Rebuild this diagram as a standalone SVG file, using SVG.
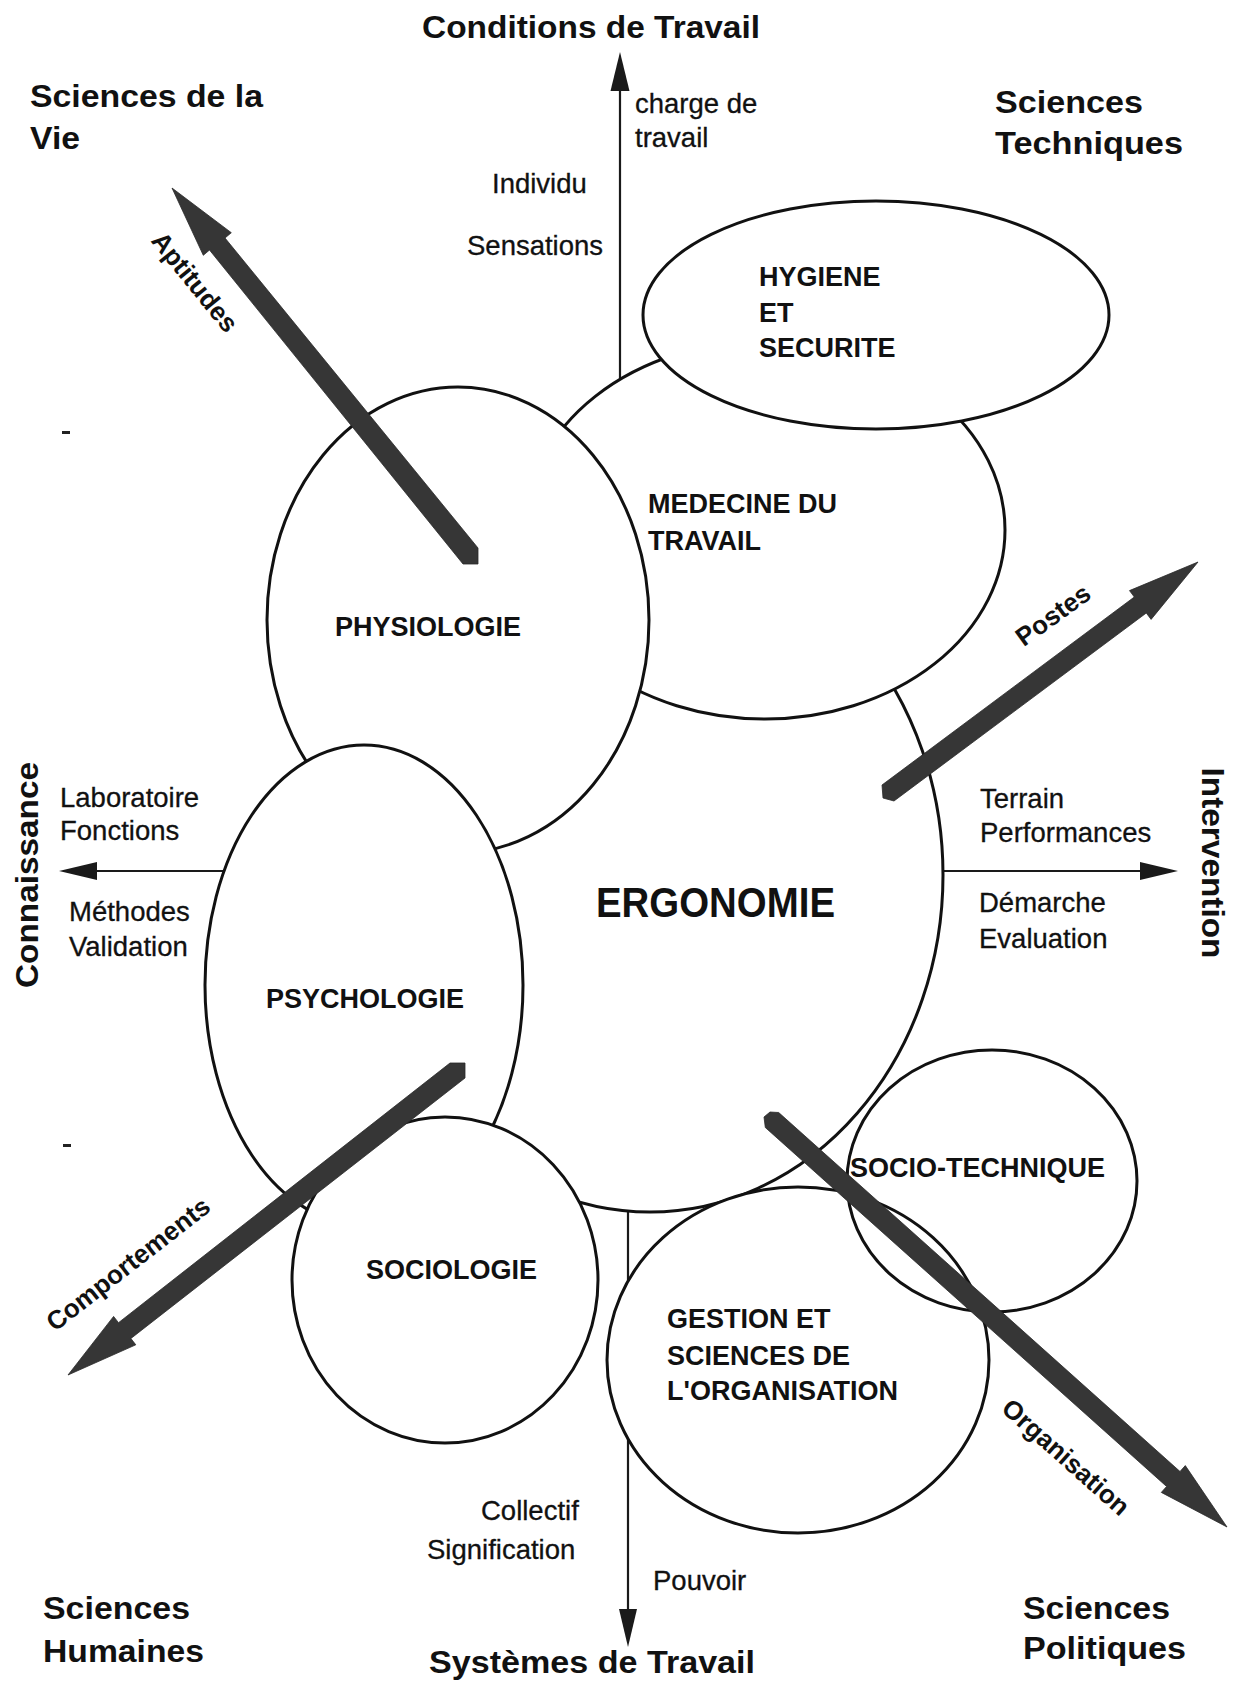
<svg xmlns="http://www.w3.org/2000/svg" width="1241" height="1684" viewBox="0 0 1241 1684">
  <style>
    .disc { fill: #fff; stroke: #111; stroke-width: 3; }
    .ring { fill: none; stroke: #111; stroke-width: 3; }
    .axis { stroke: #1a1a1a; stroke-width: 2.2; fill: none; }
    .tip { fill: #1a1a1a; }
    .thick { fill: #363636; stroke: #2a2a2a; stroke-width: 0.8; }
    text { font-family: "Liberation Sans", Arial, Helvetica, sans-serif; fill: #111; }
    .corner { font-size: 32px; font-weight: bold; }
    .node { font-size: 27px; font-weight: bold; }
    .small { font-size: 27.5px; stroke: #111; stroke-width: 0.3; }
    .diag { font-size: 26px; font-weight: bold; }
    .mark { fill: #222; }
  </style>

  <rect width="1241" height="1684" fill="#fff"/>

  <!-- thin axis lines -->
  <g id="connectors">
    <line class="axis" x1="620" y1="380" x2="620" y2="80"/>
    <polygon class="tip" points="620,52 629.5,91 610.5,91"/>
    <line class="axis" x1="628" y1="1211" x2="628" y2="1615"/>
    <polygon class="tip" points="628,1647 637,1609 619,1609"/>
    <line class="axis" x1="224" y1="871" x2="90" y2="871"/>
    <polygon class="tip" points="59,871 97,862 97,880"/>
    <line class="axis" x1="943" y1="871" x2="1148" y2="871"/>
    <polygon class="tip" points="1178,871 1140,862 1140,880"/>
  </g>

  <!-- fields -->
  <g id="ergonomie">
    <ellipse class="disc" cx="650" cy="875" rx="293" ry="337"/>
    <text x="596" y="917" font-size="42" font-weight="bold" textLength="239" lengthAdjust="spacingAndGlyphs">ERGONOMIE</text>
  </g>
  <g id="medecine">
    <ellipse class="disc" cx="765" cy="530" rx="240" ry="189"/>
    <text class="node" x="648" y="513">MEDECINE DU</text>
    <text class="node" x="648" y="550">TRAVAIL</text>
  </g>
  <g id="hygiene">
    <ellipse class="disc" cx="876" cy="315" rx="233" ry="114"/>
    <text class="node" x="759" y="286">HYGIENE</text>
    <text class="node" x="759" y="322">ET</text>
    <text class="node" x="759" y="357">SECURITE</text>
  </g>
  <g id="physiologie">
    <ellipse class="disc" cx="458" cy="620" rx="191" ry="233"/>
    <text class="node" x="335" y="636">PHYSIOLOGIE</text>
  </g>
  <g id="psychologie">
    <ellipse class="disc" cx="364" cy="985" rx="159" ry="240"/>
    <text class="node" x="266" y="1008">PSYCHOLOGIE</text>
  </g>
  <g id="sociologie">
    <ellipse class="disc" cx="445" cy="1280" rx="153" ry="163"/>
    <text class="node" x="366" y="1279">SOCIOLOGIE</text>
  </g>
  <g id="gestion">
    <ellipse class="disc" cx="798" cy="1360" rx="191" ry="173"/>
    <text class="node" x="667" y="1328">GESTION ET</text>
    <text class="node" x="667" y="1365">SCIENCES DE</text>
    <text class="node" x="667" y="1400">L'ORGANISATION</text>
  </g>
  <g id="socio-technique">
    <ellipse class="ring" cx="992" cy="1181" rx="145" ry="131"/>
    <text class="node" x="850" y="1177">SOCIO-TECHNIQUE</text>
  </g>

  <!-- broad diagonal arrows -->
  <g id="thick-arrows">
    <polygon class="thick" points="478,548 225,238 231.3,232.7 172,188 203.3,255.3 209.5,250 463,564 478,564"/>
    <polygon class="thick" points="882,785 1134.3,597 1129.5,590.6 1198,562 1151.1,619.4 1146.3,613 894,801 883,798"/>
    <polygon class="thick" points="450,1063 465,1063 465,1078 130.9,1338.5 135.8,1344.8 68,1375 113.6,1316.4 118.5,1322.7"/>
    <polygon class="thick" points="778.7,1112.5 1180,1471.5 1185.3,1465.6 1227,1527 1161.3,1492.4 1166.6,1486.5 765.3,1127.5 764,1117 770,1112"/>
  </g>

  <!-- arrow labels -->
  <g id="arrow-labels">
    <text class="diag" text-anchor="middle" transform="translate(195,282) rotate(51)" y="9">Aptitudes</text>
    <text class="diag" text-anchor="middle" transform="translate(1053,615) rotate(-36)" y="9">Postes</text>
    <text class="diag" text-anchor="middle" transform="translate(128,1264) rotate(-37.9)" y="9">Comportements</text>
    <text class="diag" text-anchor="middle" transform="translate(1066,1457) rotate(41.6)" y="9">Organisation</text>
  </g>

  <!-- axis labels -->
  <g id="axis-labels">
    <text class="small" x="635" y="113">charge de</text>
    <text class="small" x="635" y="147">travail</text>
    <text class="small" x="492" y="193">Individu</text>
    <text class="small" x="467" y="255">Sensations</text>
    <text class="small" x="60" y="807">Laboratoire</text>
    <text class="small" x="60" y="840">Fonctions</text>
    <text class="small" x="69" y="921">Méthodes</text>
    <text class="small" x="69" y="956">Validation</text>
    <text class="small" x="980" y="808">Terrain</text>
    <text class="small" x="980" y="842">Performances</text>
    <text class="small" x="979" y="912">Démarche</text>
    <text class="small" x="979" y="948">Evaluation</text>
    <text class="small" x="481" y="1520">Collectif</text>
    <text class="small" x="427" y="1559">Signification</text>
    <text class="small" x="653" y="1590">Pouvoir</text>
  </g>

  <!-- pole titles -->
  <g id="poles">
    <text class="corner" x="422" y="38" textLength="338" lengthAdjust="spacingAndGlyphs">Conditions de Travail</text>
    <text class="corner" x="30" y="107" textLength="233" lengthAdjust="spacingAndGlyphs">Sciences de la</text>
    <text class="corner" x="30" y="149" textLength="50" lengthAdjust="spacingAndGlyphs">Vie</text>
    <text class="corner" x="995" y="113" textLength="148" lengthAdjust="spacingAndGlyphs">Sciences</text>
    <text class="corner" x="995" y="154" textLength="188" lengthAdjust="spacingAndGlyphs">Techniques</text>
    <text class="corner" text-anchor="middle" transform="translate(38,875) rotate(-90)" textLength="226" lengthAdjust="spacingAndGlyphs">Connaissance</text>
    <text class="corner" text-anchor="middle" transform="translate(1202,863) rotate(90)" textLength="191" lengthAdjust="spacingAndGlyphs">Intervention</text>
    <text class="corner" x="43" y="1619" textLength="147" lengthAdjust="spacingAndGlyphs">Sciences</text>
    <text class="corner" x="43" y="1662" textLength="161" lengthAdjust="spacingAndGlyphs">Humaines</text>
    <text class="corner" x="1023" y="1619" textLength="147" lengthAdjust="spacingAndGlyphs">Sciences</text>
    <text class="corner" x="1023" y="1659" textLength="163" lengthAdjust="spacingAndGlyphs">Politiques</text>
    <text class="corner" x="429" y="1673" textLength="326" lengthAdjust="spacingAndGlyphs">Systèmes de Travail</text>
  </g>

  <!-- small margin ticks -->
  <rect class="mark" x="62" y="431" width="8" height="3"/>
  <rect class="mark" x="63" y="1144" width="8" height="3"/>
</svg>
